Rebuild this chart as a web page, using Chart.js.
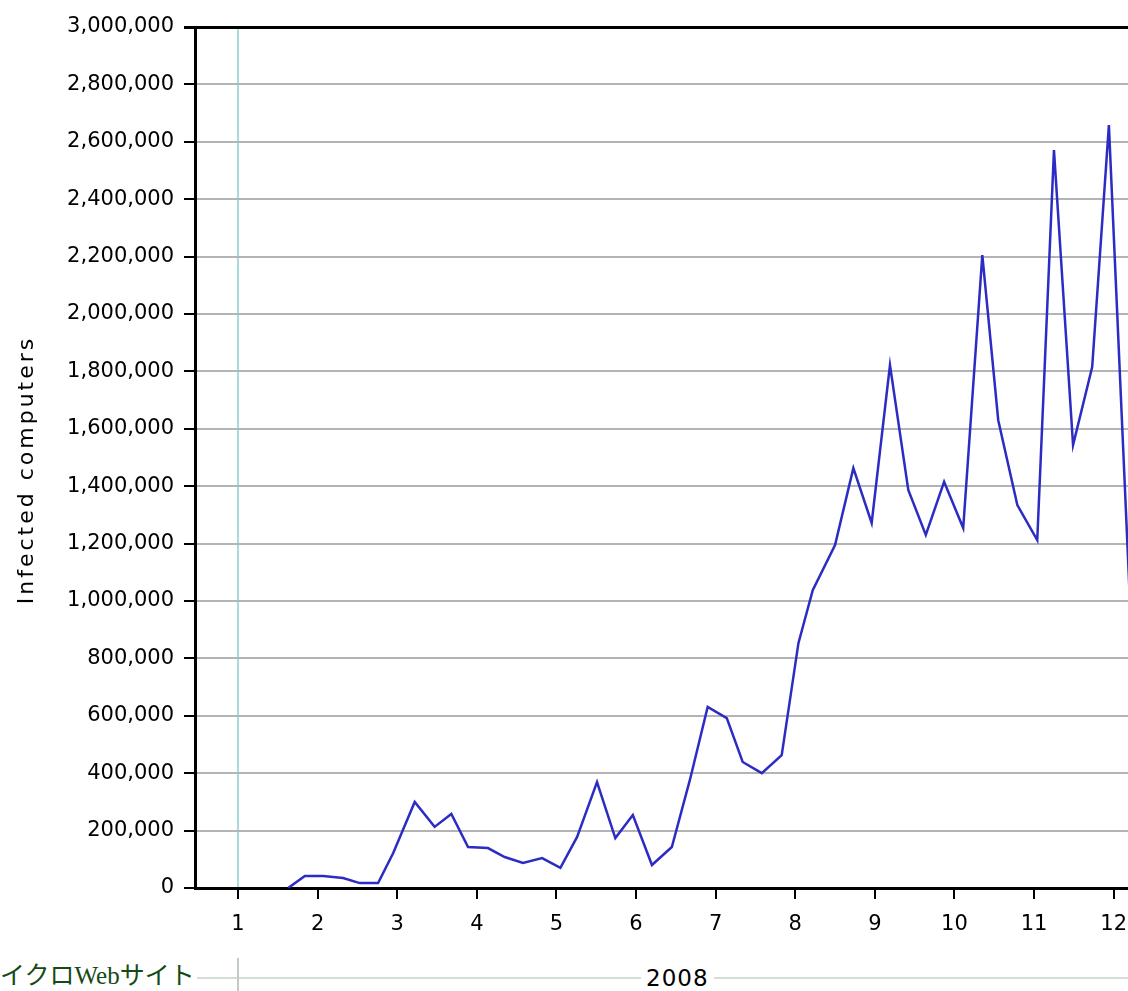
<!DOCTYPE html>
<html lang="ja">
<head>
<meta charset="utf-8">
<title>Infected computers 2008</title>
<script src="https://cdn.jsdelivr.net/npm/chart.js@4/dist/chart.umd.min.js"></script>
<style>
  html, body { margin: 0; padding: 0; background: #fff; overflow: hidden; }
  #wrap { position: absolute; left: 0; top: 0; width: 1128px; height: 940px; }
  .hline { position: absolute; left: 197px; top: 977px; width: 931px; height: 2px; background: #d6dcd6; }
  .vline { position: absolute; left: 237px; top: 958px; width: 2px; height: 33px; background: #c2ccc2; }
  .year { position: absolute; left: 641px; top: 965px; padding: 0 5px; background: #fff;
          font: 23px "DejaVu Sans", sans-serif; letter-spacing: 1px; line-height: 26px; color: #000; }
  .site { position: absolute; left: 0; top: 960px; white-space: nowrap;
          font: 25px "Liberation Serif", "Noto Sans CJK JP", serif; line-height: 32px; color: #154a15; }
</style>
</head>
<body>
<div id="wrap"><canvas id="infChart"></canvas></div>
<div class="hline"></div>
<div class="vline"></div>
<div class="year">2008</div>
<div class="site">イクロWebサイト</div>

<script>
// weekly samples, x = position on the month axis (1 = Jan ... 12 = Dec)
const weekPos = [
  1.63, 1.84, 2.07, 2.32, 2.53, 2.76, 2.95, 3.22, 3.47, 3.68,
  3.89, 4.14, 4.35, 4.58, 4.82, 5.05, 5.26, 5.51, 5.74, 5.96,
  6.20, 6.45, 6.68, 6.90, 7.14, 7.34, 7.58, 7.83, 8.04, 8.22,
  8.50, 8.73, 8.96, 9.19, 9.42, 9.64, 9.87, 10.11, 10.35, 10.55,
  10.79, 11.04, 11.25, 11.49, 11.73, 11.94, 12.22
];
const infected = [
  0, 42000, 42000, 35000, 17000, 17000, 122000, 300000, 213000, 258000,
  143000, 139000, 108000, 87000, 104000, 70000, 178000, 369000, 174000, 254000,
  80000, 143000, 380000, 631000, 592000, 439000, 400000, 463000, 853000, 1038000,
  1195000, 1463000, 1272000, 1822000, 1387000, 1230000, 1415000, 1254000, 2205000, 1630000,
  1334000, 1212000, 2571000, 1543000, 1815000, 2658000, 900000
];
const monthTicks = [1, 2, 3, 4, 5, 6, 7, 8, 9, 10, 11, 12];
const yAxisTitle = 'Infected computers';

const TICK_FONT = { family: 'DejaVu Sans', size: 21 };
const Y_MAX = 3000000;

// y-as titel met ruimere letterafstand (zoals het origineel)
const yTitlePlugin = {
  id: 'yTitle',
  afterDraw(chart) {
    const ctx = chart.ctx;
    ctx.save();
    ctx.translate(27, 470);
    ctx.rotate(-Math.PI / 2);
    ctx.font = '22px "DejaVu Sans"';
    ctx.letterSpacing = '3px';
    ctx.fillStyle = '#000';
    ctx.textAlign = 'center';
    ctx.textBaseline = 'middle';
    ctx.fillText(yAxisTitle, 0, 0);
    ctx.restore();
  }
};

new Chart(document.getElementById('infChart'), {
  type: 'line',
  data: {
    datasets: [{
      label: yAxisTitle,
      data: weekPos.map((x, i) => ({ x, y: infected[i] })),
      borderColor: '#2c2cc4',
      borderWidth: 2.5,
      pointRadius: 0,
      tension: 0,
      fill: false
    }]
  },
  options: {
    responsive: true,
    maintainAspectRatio: false,
    animation: false,
    layout: { padding: { top: 27, left: 0, right: 0, bottom: 0 } },
    plugins: {
      legend: { display: false },
      tooltip: { enabled: false }
    },
    scales: {
      x: {
        type: 'linear',
        min: 0.46,
        max: 12.18,
        afterBuildTicks: s => { s.ticks = monthTicks.map(v => ({ value: v })); },
        // plotgebied loopt door tot de rechterrand (afgesneden zoals het origineel)
        afterFit: s => { s.height = 52; s.paddingRight = 0; s.paddingLeft = 0; },
        grid: {
          color: c => (c.tick && c.tick.value === 1) ? '#a8dcdc' : 'rgba(0,0,0,0)',
          lineWidth: 2,
          tickColor: '#000',
          tickLength: 11
        },
        border: { color: '#000', width: 3 },
        ticks: { color: '#000', font: TICK_FONT, padding: 13, maxRotation: 0, autoSkip: false }
      },
      y: {
        min: 0,
        max: Y_MAX,
        afterFit: s => { s.width = 195; },
        grid: {
          color: c => (c.tick && c.tick.value === Y_MAX) ? '#000' : '#b4b4b4',
          lineWidth: c => (c.tick && c.tick.value === Y_MAX) ? 3 : 2,
          tickColor: '#000',
          tickLength: 11
        },
        border: { color: '#000', width: 3 },
        ticks: {
          stepSize: 200000,
          color: '#000',
          font: TICK_FONT,
          padding: 10,
          callback: v => v.toLocaleString('en-US')
        }
      }
    }
  },
  plugins: [yTitlePlugin]
});
</script>
</body>
</html>
